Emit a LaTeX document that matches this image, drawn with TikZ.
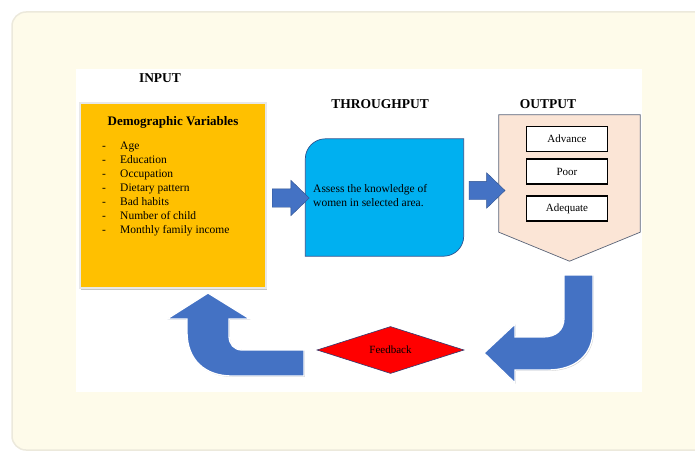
\documentclass[tikz,border=0pt]{standalone}
\usepackage{fontspec}
\setmainfont{Liberation Serif}
\usetikzlibrary{positioning,shapes.geometric,shapes.arrows,shadows,calc}
\definecolor{panelcream}{HTML}{FEFBEA}
\definecolor{panelline}{HTML}{ECE9DC}
\definecolor{demoyellow}{HTML}{FFC000}
\definecolor{thrublue}{HTML}{00B0F0}
\definecolor{arrowblue}{HTML}{4472C4}
\definecolor{arrowline}{HTML}{2F528F}
\definecolor{outpeach}{HTML}{FBE5D6}
\definecolor{outedge}{HTML}{5A6478}
\definecolor{fbred}{HTML}{FF0000}
\definecolor{fbline}{HTML}{2F3B70}

\begin{document}
\begin{tikzpicture}[
    x=1pt, y=-1pt,
    every node/.style={font=\fontsize{11.5}{14}\selectfont, inner sep=0pt},
    heading/.style={font=\fontsize{13.5}{16}\selectfont\bfseries, anchor=base},
    inbox/.style={fill=demoyellow, draw=white!82!gray, line width=1.2pt, minimum width=186pt, minimum height=185pt,
      drop shadow={shadow xshift=0.6pt, shadow yshift=-1.6pt, fill=black!45}},
    thrushape/.style={fill=thrublue, draw=arrowline, line width=0.7pt},
    outshape/.style={fill=outpeach, draw=outedge, line width=0.7pt},
    res/.style={draw=black, line width=1.9pt, fill=white, minimum width=81pt, minimum height=25pt, font=\fontsize{11}{13}\selectfont},
    barrow/.style={single arrow, fill=arrowblue, draw=arrowline, line width=0.4pt, inner xsep=0pt, inner ysep=9pt,
      single arrow head extend=8.5pt, single arrow tip angle=88},
    bentarrow/.style={fill=arrowblue, draw=white, line width=1.3pt,
      drop shadow={shadow xshift=0.8pt, shadow yshift=-0.9pt, fill=black!40}},
    fbox/.style={diamond, fill=fbred, draw=fbline, line width=0.6pt, minimum width=147pt, minimum height=47pt,
      shape aspect=3.1, font=\fontsize{11}{13}\selectfont}
  ]
    \useasboundingbox (0,0) rectangle (695,452);
    \clip (0,0) rectangle (695,452);

    % page panel and picture area
    \draw[panelline, fill=panelcream, line width=1.5pt, rounded corners=14pt] (12,12) rectangle (740,450);
    \fill[white] (76,69) rectangle (642,392);

    % Input
    \node[heading] (inlabel) at (160,82.5) {INPUT};
    \node[inbox] (input) at (173,195.5) {};
    \node[font=\fontsize{13}{16}\selectfont\bfseries, anchor=base] (demotitle) at (173,125.5) {Demographic Variables};
    \foreach \var [count=\i from 0] in {Age,Education,Occupation,Dietary pattern,Bad habits,Number of child,Monthly family income}{
      \node[anchor=base west] (dash\i) at (102,{149+14*\i}) {-};
      \node[anchor=base west] (var\i) at (120,{149+14*\i}) {\var};
    }

    % Throughput
    \node[heading] (thrulabel) at (380,108.5) {THROUGHPUT};
    \node[minimum width=158pt, minimum height=117pt] (thru) at (384.5,197.5) {};
    \draw[thrushape] (thru.south west) -- ($(thru.north west)+(0,20)$)
      .. controls ($(thru.north west)+(0,9)$) and ($(thru.north west)+(9,0)$) .. ($(thru.north west)+(20,0)$)
      -- (thru.north east) -- ($(thru.south east)+(0,-20)$)
      .. controls ($(thru.south east)+(0,-9)$) and ($(thru.south east)+(-9,0)$) .. ($(thru.south east)+(-20,0)$)
      -- cycle;
    \node[anchor=base west] (assess1) at (313,192) {Assess the knowledge of};
    \node[anchor=base west] (assess2) at (313,206) {women in selected area.};

    % Output
    \node[heading] (outlabel) at (548,108.5) {OUTPUT};
    \node[minimum width=141pt, minimum height=117pt] (output) at (569.5,173.5) {};
    \draw[outshape] (output.north west) -- (output.north east) -- (output.south east)
      -- ($(output.south)+(0,29)$) -- (output.south west) -- cycle;
    \node[res] (adv) at (567,139) {Advance};
    \node[res, below=6pt of adv] (poor) {Poor};
    \node[res, below=10pt of poor] (adeq) {Adequate};

    % block arrows
    \node[barrow, minimum height=37pt] (in2thru) at ($(input.east)!0.5!(thru.west)+(0,1.5)$) {};
    \node[barrow, minimum height=36pt] (thru2out) at ($(thru.east)!0.5!(output.west)+(1,5)$) {};

    % feedback loop
    \node[fbox] (feedback) at (390.5,350) {Feedback};
    \draw[bentarrow] (593,275) -- (593,330) .. controls (593,355) and (575,370) .. (548,370) -- (515,370)
      -- (515,383) -- (484,353) -- (515,324) -- (515,337) -- (543,337)
      .. controls (556,337) and (564,330) .. (564,318) -- (564,275) -- cycle;
    \draw[bentarrow] (304,350) -- (242,350) .. controls (234,350) and (229,344) .. (229,336) -- (229,319)
      -- (250,319) -- (208,293) -- (167,319) -- (187,319) -- (187,332)
      .. controls (187,360) and (205,376) .. (232,376) -- (304,376) -- cycle;
  \end{tikzpicture}
\end{document}
